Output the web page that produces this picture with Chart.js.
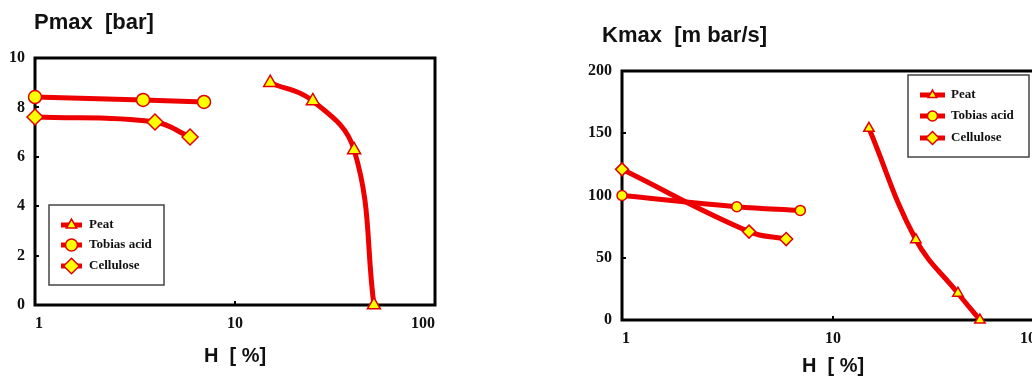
<!DOCTYPE html>
<html><head><meta charset="utf-8">
<script src="https://cdn.jsdelivr.net/npm/chart.js@4.4.1/dist/chart.umd.min.js"></script>
<style>
html,body{margin:0;padding:0;background:#fff;overflow:hidden;width:1032px;height:376px;}
#wrap{position:relative;width:1032px;height:376px;overflow:hidden;background:#fff;}
#c1{position:absolute;left:0;top:0;}
#c2{position:absolute;left:560px;top:0;}
</style></head><body>
<div id="wrap">
<canvas id="c1" width="460" height="376"></canvas>
<canvas id="c2" width="500" height="376"></canvas>
</div>
<script>
// ---- data ----
const seriesNames = ['Peat', 'Tobias acid', 'Cellulose'];
const hTicks = [1, 10, 100];

const pmaxPeatH = [15, 24.5, 39.4, 49.5];
const pmaxPeat = [9.0, 8.26, 6.28, 0];
const pmaxTobiasH = [1, 3.47, 7.0];
const pmaxTobias = [8.42, 8.3, 8.22];
const pmaxCelluloseH = [1, 3.98, 5.96];
const pmaxCellulose = [7.61, 7.41, 6.8];

const kmaxPeatH = [14.8, 24.7, 39.1, 49.7];
const kmaxPeat = [154, 64.5, 21.5, 0];
const kmaxTobiasH = [1, 3.5, 7.0];
const kmaxTobias = [100, 91, 88];
const kmaxCelluloseH = [1, 4.0, 6.0];
const kmaxCellulose = [121, 71, 65];

const pmaxAxis = {min: 0, max: 10, step: 2};
const kmaxAxis = {min: 0, max: 200, step: 50};

// ---- helpers ----
function pts(xs, ys) { return xs.map((x, i) => ({x: x, y: ys[i]})); }

const boxPlugin = {
  id: 'plotBox',
  beforeDatasetsDraw(chart) {
    const a = chart.chartArea, ctx = chart.ctx;
    ctx.save();
    ctx.strokeStyle = '#000';
    ctx.lineWidth = 3;
    ctx.strokeRect(a.left, a.top, a.right - a.left, a.bottom - a.top);
    ctx.restore();
  }
};
const headPlugin = {
  id: 'headText',
  afterDraw(chart, args, o) {
    const ctx = chart.ctx;
    ctx.save();
    ctx.font = 'bold 22px "Liberation Sans", Arial, sans-serif';
    ctx.fillStyle = '#111';
    ctx.textBaseline = 'middle';
    ctx.textAlign = 'left';
    ctx.fillText(o.text, o.x, o.y);
    ctx.restore();
  }
};
const boxLegend = {
  id: 'boxLegend',
  afterDraw(chart, args, o) {
    const ctx = chart.ctx;
    ctx.save();
    ctx.fillStyle = '#fff';
    ctx.fillRect(o.x, o.y, o.w, o.h);
    ctx.strokeStyle = '#444';
    ctx.lineWidth = 1.5;
    ctx.strokeRect(o.x, o.y, o.w, o.h);
    chart.data.datasets.forEach((ds, i) => {
      const y = o.rows[i];
      ctx.strokeStyle = ds.borderColor;
      ctx.lineWidth = 5;
      ctx.beginPath(); ctx.moveTo(o.lx1, y); ctx.lineTo(o.lx2, y); ctx.stroke();
      ctx.fillStyle = ds.pointBackgroundColor;
      ctx.strokeStyle = ds.pointBorderColor;
      ctx.lineWidth = ds.pointBorderWidth;
      const r = ds.pointStyle === 'rectRot' ? o.r * 1.3 : o.r;
      Chart.helpers.drawPoint(ctx, {pointStyle: ds.pointStyle, radius: r, borderWidth: ds.pointBorderWidth, rotation: 0}, (o.lx1 + o.lx2) / 2, y);
      ctx.fillStyle = '#111';
      ctx.font = 'bold 13px "Liberation Serif", "Times New Roman", serif';
      ctx.textBaseline = 'middle';
      ctx.textAlign = 'left';
      ctx.fillText(ds.label, o.tx, y);
    });
    ctx.restore();
  }
};

function ds(label, data, style, r) {
  return {
    label: label, data: data, showLine: true,
    borderColor: '#EE0000', borderWidth: 5,
    tension: 0.4,
    pointStyle: style, pointRadius: r, pointHoverRadius: r,
    pointBackgroundColor: '#FFFF00', pointBorderColor: '#E00000', pointBorderWidth: 1.5,
    clip: false
  };
}

function makeChart(el, c) {
  const tickFont = {family: '"Liberation Serif", "Times New Roman", serif', weight: 'bold', size: 16};
  const gridOpt = {display: true, drawOnChartArea: false, drawTicks: true, tickLength: -4, color: '#000', lineWidth: 2};
  return new Chart(el, {
    type: 'line',
    data: {datasets: c.datasets},
    options: {
      responsive: false, animation: false, events: [],
      layout: {padding: {top: c.top, right: c.right, left: 0, bottom: 0}},
      scales: {
        x: {
          type: 'logarithmic', min: hTicks[0], max: hTicks[hTicks.length - 1],
          afterBuildTicks: s => { s.ticks = hTicks.map(v => ({value: v})); },
          afterFit: s => { s.height = c.xh; },
          ticks: {callback: v => String(v), font: tickFont, color: '#111', padding: 13, align: 'inner', maxRotation: 0, autoSkip: false},
          grid: gridOpt, border: {display: false},
          title: {display: true, text: 'H  [ %]', color: '#111',
            font: {family: '"Liberation Sans", Arial, sans-serif', weight: 'bold', size: 20, lineHeight: 1},
            padding: {top: 0, bottom: c.tpb}}
        },
        y: {
          min: c.yax.min, max: c.yax.max,
          afterFit: s => { s.width = c.yw; },
          ticks: {stepSize: c.yax.step, font: tickFont, color: '#111', padding: 14},
          grid: gridOpt, border: {display: false}
        }
      },
      plugins: {
        legend: {display: false}, tooltip: {enabled: false},
        headText: c.head,
        boxLegend: c.legend
      }
    },
    plugins: [boxPlugin, headPlugin, boxLegend]
  });
}

makeChart(document.getElementById('c1'), {
  top: 58, right: 25, xh: 71, yw: 35, tpb: 10, yax: pmaxAxis,
  head: {text: 'Pmax  [bar]', x: 34, y: 23},
  legend: {x: 49, y: 205, w: 115, h: 80, rows: [225, 245, 266], lx1: 61, lx2: 82, tx: 89, r: 6},
  datasets: [
    ds(seriesNames[0], pts(pmaxPeatH, pmaxPeat), 'triangle', 7.5),
    ds(seriesNames[1], pts(pmaxTobiasH, pmaxTobias), 'circle', 6.5),
    ds(seriesNames[2], pts(pmaxCelluloseH, pmaxCellulose), 'rectRot', 8)
  ]
});

makeChart(document.getElementById('c2'), {
  top: 71, right: 16, xh: 56, yw: 62, tpb: 0, yax: kmaxAxis,
  head: {text: 'Kmax  [m bar/s]', x: 42, y: 36},
  legend: {x: 348, y: 75, w: 121, h: 82, rows: [95, 116, 138], lx1: 360, lx2: 385, tx: 391, r: 5},
  datasets: [
    ds(seriesNames[0], pts(kmaxPeatH, kmaxPeat), 'triangle', 6),
    ds(seriesNames[1], pts(kmaxTobiasH, kmaxTobias), 'circle', 5),
    ds(seriesNames[2], pts(kmaxCelluloseH, kmaxCellulose), 'rectRot', 6.5)
  ]
});
</script>
</body></html>
